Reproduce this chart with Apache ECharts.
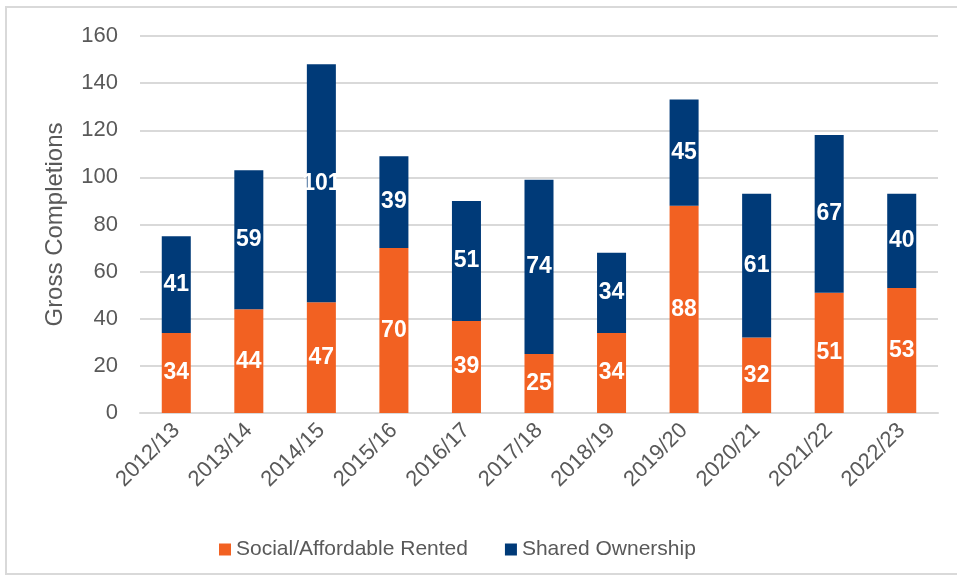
<!DOCTYPE html>
<html><head><meta charset="utf-8">
<script src="https://cdn.jsdelivr.net/npm/echarts@6/dist/echarts.min.js"></script>
<style>html,body{margin:0;padding:0;background:#fff}#c{width:957px;height:579px}</style>
</head><body><div id="c"></div>
<script>
const categories = ['2012/13','2013/14','2014/15','2015/16','2016/17','2017/18','2018/19','2019/20','2020/21','2021/22','2022/23'];
const socialRented = [34,44,47,70,39,25,34,88,32,51,53];
const sharedOwnership = [41,59,101,39,51,74,34,45,61,67,40];
const yTicks = [0,20,40,60,80,100,120,140,160];

const chart = echarts.init(document.getElementById('c'));
const labelStyle = {show:true, position:'inside', color:'#fff', fontWeight:'bold', fontSize:23, fontFamily:'Liberation Sans, Arial, sans-serif'};
chart.setOption({
  animation:false,
  textStyle:{fontFamily:'Liberation Sans, Arial, sans-serif'},
  graphic:[{type:'rect', shape:{x:6,y:7,width:960,height:567}, style:{fill:'none', stroke:'#d9d9d9', lineWidth:2}, silent:true}],
  grid:{left:140, right:19, top:36, bottom:166},
  legend:{top:534, left:214, itemWidth:12, itemHeight:12, itemGap:37, icon:'rect',
    textStyle:{fontSize:21, color:'#595959'}},
  xAxis:{type:'category', data:categories,
    axisLine:{lineStyle:{color:'#d9d9d9', width:2}}, axisTick:{show:false},
    axisLabel:{rotate:45, fontSize:22, color:'#595959', margin:14, interval:0}},
  yAxis:{type:'value', min:yTicks[0], max:yTicks[yTicks.length-1], interval:20,
    name:'Gross Completions', nameLocation:'middle', nameGap:73, nameRotate:90,
    nameTextStyle:{fontSize:24, color:'#595959'},
    axisLine:{show:false}, axisTick:{show:false},
    axisLabel:{fontSize:22, color:'#595959', margin:22},
    splitLine:{lineStyle:{color:'#d9d9d9', width:2}}},
  series:[
    {name:'Social/Affordable Rented', type:'bar', stack:'t', data:socialRented, barWidth:'40%',
      itemStyle:{color:'#F26122'}, label:labelStyle},
    {name:'Shared Ownership', type:'bar', stack:'t', data:sharedOwnership, barWidth:'40%',
      itemStyle:{color:'#003A78'}, label:labelStyle}
  ]
});
</script></body></html>
